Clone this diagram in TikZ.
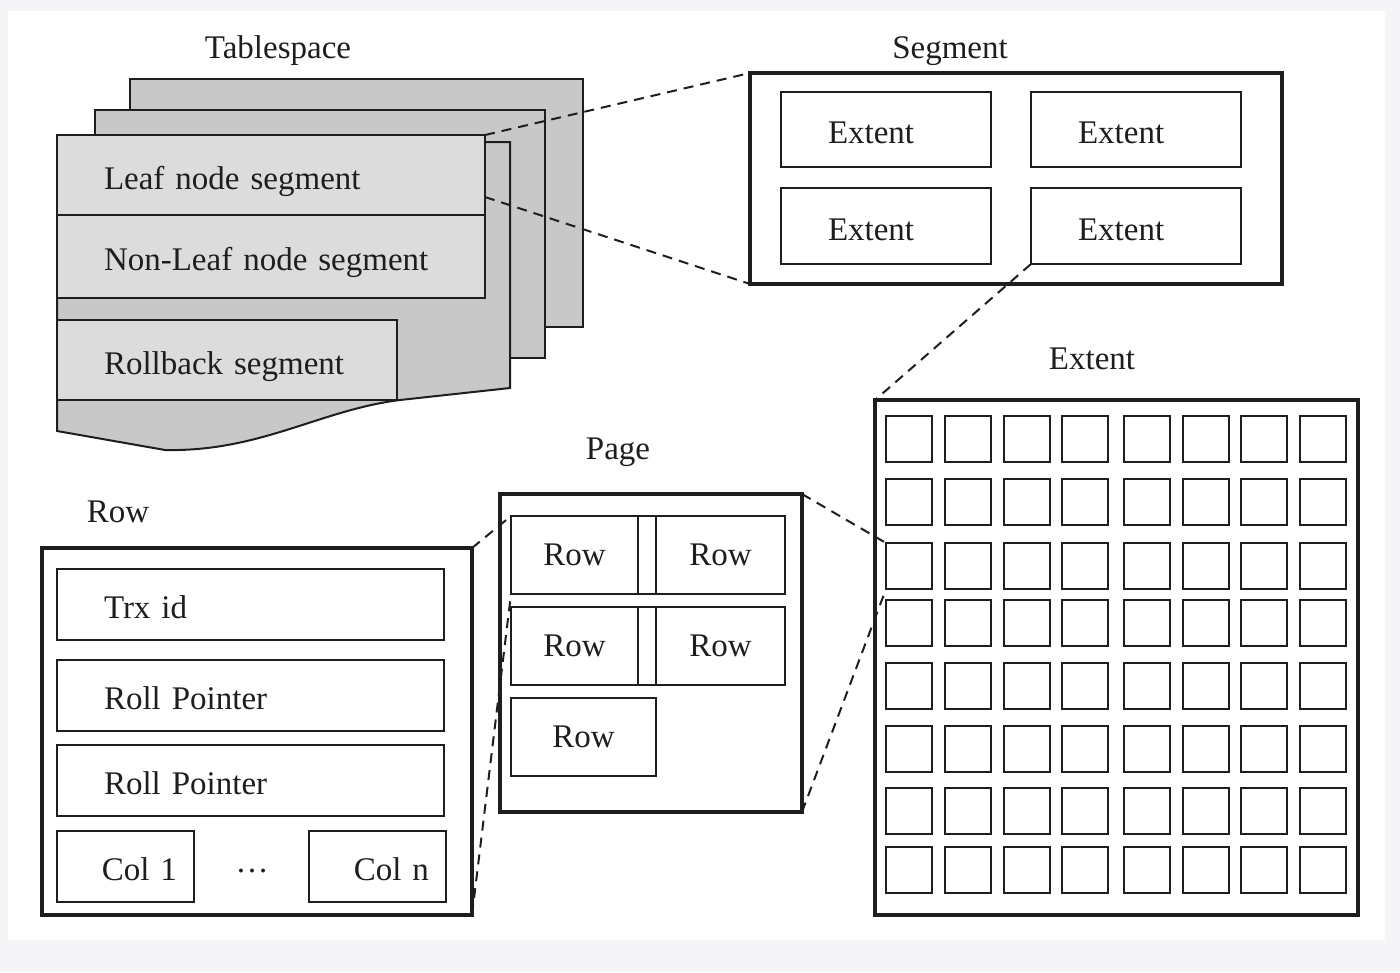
\documentclass[tikz,border=0pt]{standalone}
\usepackage{fontspec}
\setmainfont{Liberation Serif}
\usepackage{tikz}
\usetikzlibrary{calc}
\usepackage{xcolor}
\definecolor{dbInk}{HTML}{1E1E1E}
\definecolor{dbSheet}{HTML}{C8C8C8}
\definecolor{dbBox}{HTML}{DCDCDC}
\definecolor{dbPaper}{HTML}{F5F5F8}
\newcommand{\dbfont}{\fontsize{33}{40}\selectfont}
\tikzset{
    title/.style={
        anchor=base,font=\dbfont,text=dbInk
    },
    bigbox/.style={
        draw=dbInk,line width=3.5pt,anchor=north west,
        inner sep=0pt,outer sep=0pt
    },
    field/.style={
        draw=dbInk,line width=2pt,anchor=north west,
        inner sep=0pt,outer sep=0pt,font=\dbfont,text=dbInk
    },
    lft/.style={
        align=left,inner xsep=47pt,text width=#1pt,
        text height=32pt,text depth=4pt
    },
    rgt/.style={
        align=right,inner xsep=17pt,text width=#1pt,
        text height=32pt,text depth=4pt
    },
    cell/.style={
        draw=dbInk,line width=2.5pt,anchor=north west,
        inner sep=0pt,outer sep=0pt,minimum size=46pt
    },
    sheet/.style={
        draw=dbInk,line width=2pt,fill=dbSheet
    },
    link/.style={
        draw=dbInk,line width=2pt,dash pattern=on 10pt off 7pt
    }
}

\begin{document}
\begin{tikzpicture}[x=1pt,y=-1pt]

\fill[dbPaper] (0,0) rectangle (1400,972);
\fill[white] (8,11) rectangle (1385,940);
\useasboundingbox (0,0) rectangle (1400,972);

% tablespace
\node[title] (tsTitle) at (278,58) {Tablespace};
\draw[sheet] (130,79) rectangle (583,327);
\draw[sheet] (95,110) rectangle (545,358);
\draw[sheet] (57,142) -- (510,142) -- (510,388) -- (400,400)
  .. controls (320,410) and (260,452) .. (165,450) -- (57,431) -- cycle;

\node[field,fill=dbBox,lft=334,minimum height=80pt] (leaf) at (57,135) {Leaf node segment};
\node[field,fill=dbBox,lft=334,minimum height=83pt] (nonleaf) at (57,215) {Non-Leaf node segment};
\node[field,fill=dbBox,lft=246,minimum height=80pt] (rollback) at (57,320) {Rollback segment};

% segment
\node[title] (segTitle) at (950,58) {Segment};
\node[bigbox,minimum width=532pt,minimum height=211pt] (seg) at (750,73) {};
\node[field,lft=116,minimum height=75pt] (ext1) at (781,92) {Extent};
\node[field,lft=116,minimum height=75pt] (ext2) at (1031,92) {Extent};
\node[field,lft=116,minimum height=76pt] (ext3) at (781,188) {Extent};
\node[field,lft=116,minimum height=76pt] (ext4) at (1031,188) {Extent};

% extent
\node[title] (extTitle) at (1092,369) {Extent};
\node[bigbox,line width=4pt,minimum width=483pt,minimum height=515pt] (ext) at (875,400) {};
\foreach \y [count=\r] in {416,479,543,600,663,726,788,847}
  \foreach \x [count=\c] in {886,945,1004,1062,1124,1183,1241,1300}
    \node[cell] (c-\r-\c) at (\x,\y) {};

% page
\node[title] (pageTitle) at (618,459) {Page};
\node[bigbox,line width=4pt,minimum width=302pt,minimum height=318pt] (page) at (500,494) {};
\node[field,minimum width=127pt,minimum height=78pt] (pr1) at (511,516) {Row};
\node[field,minimum width=129pt,minimum height=78pt] (pr2) at (656,516) {Row};
\draw[draw=dbInk,line width=2pt] (pr1.north east) rectangle (pr2.south west);
\node[field,minimum width=127pt,minimum height=78pt] (pr3) at (511,607) {Row};
\node[field,minimum width=129pt,minimum height=78pt] (pr4) at (656,607) {Row};
\draw[draw=dbInk,line width=2pt] (pr3.north east) rectangle (pr4.south west);
\node[field,minimum width=145pt,minimum height=78pt] (pr5) at (511,698) {Row};

% row
\node[title] (rowTitle) at (118,522) {Row};
\node[bigbox,minimum width=430pt,minimum height=367pt] (row) at (42,548) {};
\node[field,lft=293,minimum height=71pt] (trx) at (57,569) {Trx id};
\node[field,lft=293,minimum height=71pt] (roll1) at (57,660) {Roll Pointer};
\node[field,lft=293,minimum height=71pt] (roll2) at (57,745) {Roll Pointer};
\node[field,rgt=103,minimum height=71pt] (col1) at (57,831) {Col 1};
\node[field,rgt=103,minimum height=71pt] (coln) at (309,831) {Col n};
\node[title] (dots) at (252,883) {\raisebox{11pt}{…}};

% zoom links
\coordinate (leafcut) at ($(leaf.south east)+(0,-18)$);
\draw[link] (leaf.north east) -- (seg.north west);
\draw[link] (leafcut) -- (seg.south west);
\draw[link] (ext4.south west) -- (ext.north west);
\draw[link] (page.north east) -- (c-3-1.north west);
\draw[link] (page.south east) -- (c-3-1.south west);
\draw[link] (row.north east) -- (pr1.north west);
\draw[link] (row.south east) -- (pr1.south west);

\end{tikzpicture}
\end{document}
